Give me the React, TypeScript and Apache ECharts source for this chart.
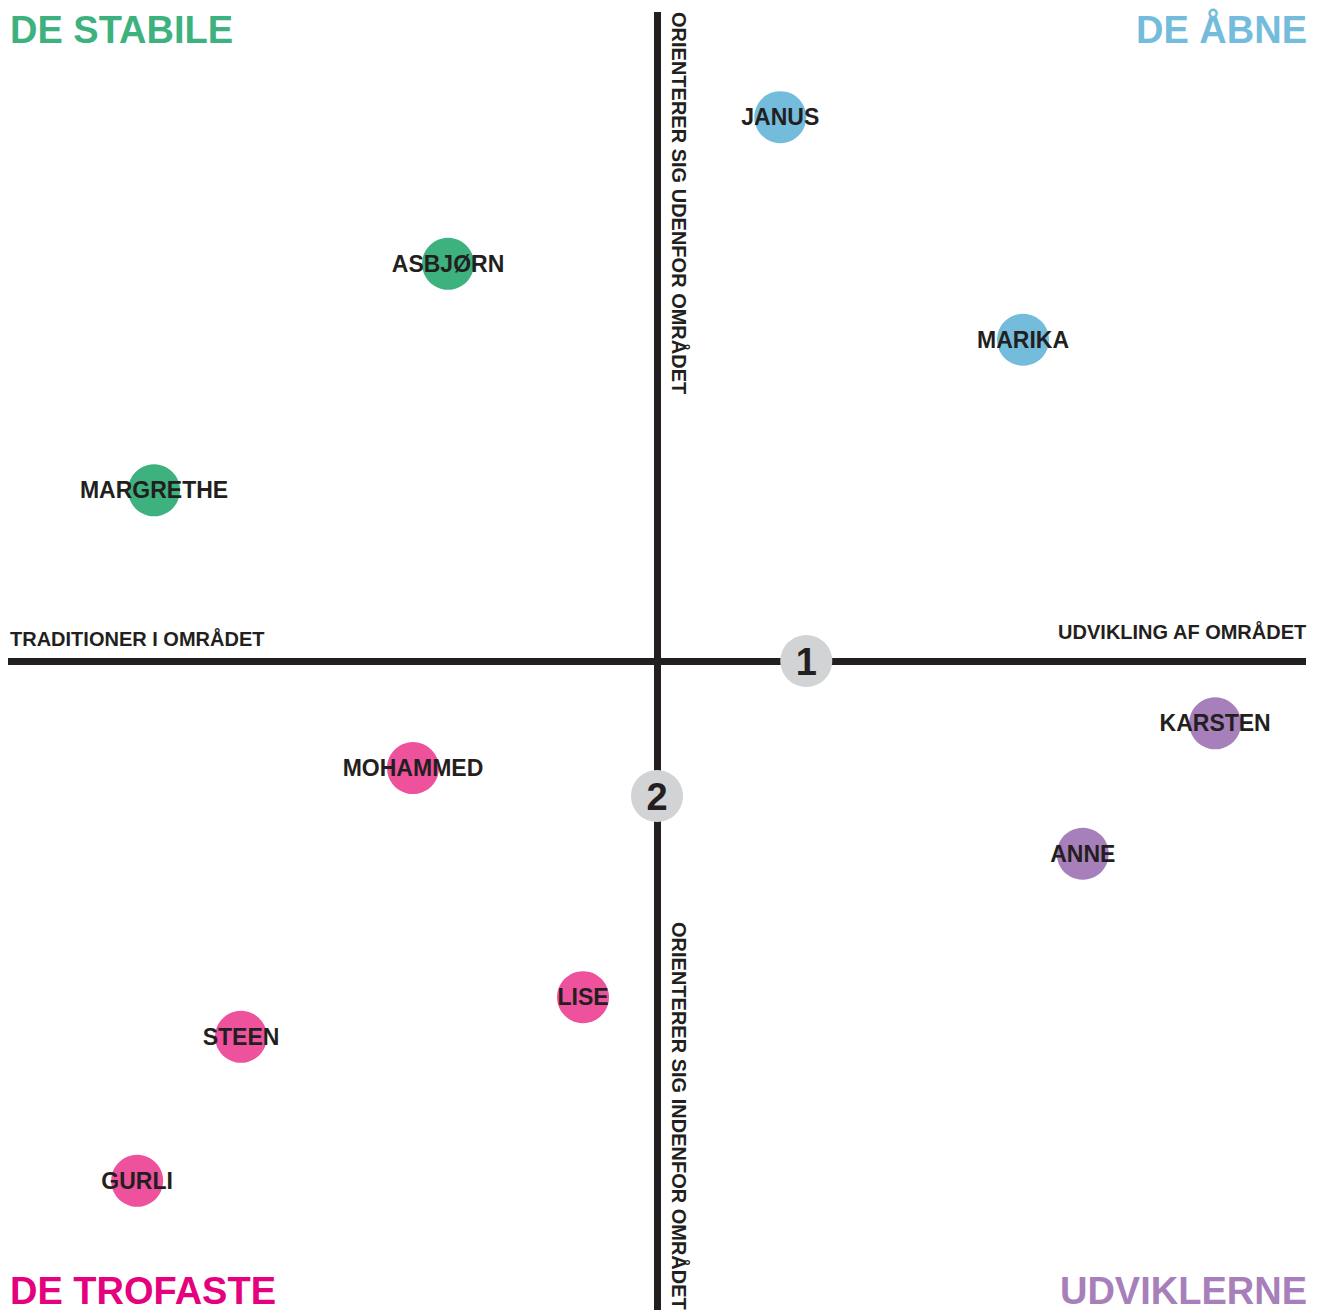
import React, { useEffect, useRef } from "react";
import * as echarts from "echarts";

// Data (x: traditioner -10 .. udvikling +10, y: indenfor -10 .. udenfor +10)
const stabileNames = ["ASBJØRN", "MARGRETHE"];
const stabileX = [-3.22, -7.75];
const stabileY = [6.12, 2.63];

const aabneNames = ["JANUS", "MARIKA"];
const aabneX = [1.9, 5.64];
const aabneY = [8.38, 4.95];

const udviklerneNames = ["KARSTEN", "ANNE"];
const udviklerneX = [8.6, 6.56];
const udviklerneY = [-0.96, -2.97];

const trofasteNames = ["MOHAMMED", "LISE", "STEEN", "GURLI"];
const trofasteX = [-3.76, -1.14, -6.41, -8.01];
const trofasteY = [-1.65, -5.18, -5.79, -8.01];

const markerNames = ["1", "2"];
const markerX = [2.3, 0];
const markerY = [0, -2.08];

const quadrantTitles = ["DE STABILE", "DE ÅBNE", "DE TROFASTE", "UDVIKLERNE"];
const axisTitles = [
  "TRADITIONER I OMRÅDET",
  "UDVIKLING AF OMRÅDET",
  "ORIENTERER SIG UDENFOR OMRÅDET",
  "ORIENTERER SIG INDENFOR OMRÅDET",
];

const INK = "#231f20";
const FONT = "'Liberation Sans', Arial, sans-serif";

const pts = (names: string[], xs: number[], ys: number[]) =>
  names.map((n, i) => ({ name: n, value: [xs[i], ys[i]] }));

const personSeries = (data: any[], color: string) => ({
  type: "scatter",
  data,
  symbol: "circle",
  symbolSize: 52,
  itemStyle: { color, opacity: 1 },
  label: {
    show: true,
    position: "inside",
    formatter: "{b}",
    color: INK,
    fontFamily: FONT,
    fontWeight: "bold",
    fontSize: 23,
  },
  emphasis: { disabled: true },
  z: 3,
});

export default function App() {
  const ref = useRef<HTMLDivElement>(null);
  useEffect(() => {
    if (!ref.current) return;
    const chart = echarts.init(ref.current, undefined, { renderer: "svg" });
    const titleStyle = (color: string) => ({
      fill: color,
      font: `bold 38px ${FONT}`,
    });
    chart.setOption({
      animation: false,
      backgroundColor: "#ffffff",
      grid: { left: 8, right: 14, top: 12, bottom: 3 },
      xAxis: {
        type: "value",
        min: -10,
        max: 10,
        axisLine: {
          show: true,
          onZero: true,
          lineStyle: { color: INK, width: 7, cap: "butt" },
        },
        axisTick: { show: false },
        axisLabel: { show: false },
        splitLine: { show: false },
      },
      yAxis: {
        type: "value",
        min: -10,
        max: 10,
        axisLine: {
          show: true,
          onZero: true,
          lineStyle: { color: INK, width: 7, cap: "butt" },
        },
        axisTick: { show: false },
        axisLabel: { show: false },
        splitLine: { show: false },
      },
      series: [
        personSeries(pts(stabileNames, stabileX, stabileY), "#3db27f"),
        personSeries(pts(aabneNames, aabneX, aabneY), "#74bcdc"),
        personSeries(pts(udviklerneNames, udviklerneX, udviklerneY), "#a77fba"),
        personSeries(pts(trofasteNames, trofasteX, trofasteY), "#ef529d"),
        {
          type: "scatter",
          data: pts(markerNames, markerX, markerY),
          symbol: "circle",
          symbolSize: 52,
          itemStyle: { color: "#d2d3d5", opacity: 1 },
          label: {
            show: true,
            position: "inside",
            formatter: "{b}",
            color: INK,
            fontFamily: "'Liberation Sans Narrow', 'Liberation Sans', sans-serif",
            fontWeight: "bold",
            fontSize: 38,
            offset: [0, 1],
          },
          emphasis: { disabled: true },
          z: 3,
        },
      ],
      graphic: [
        {
          type: "text",
          left: 10,
          top: 11,
          style: { text: quadrantTitles[0], ...titleStyle("#3db27f") },
        },
        {
          type: "text",
          right: 13,
          top: 11,
          style: { text: quadrantTitles[1], ...titleStyle("#74bcdc") },
        },
        {
          type: "text",
          left: 10,
          top: 1272,
          style: { text: quadrantTitles[2], ...titleStyle("#e5007d") },
        },
        {
          type: "text",
          right: 13,
          top: 1272,
          style: { text: quadrantTitles[3], ...titleStyle("#a77fba") },
        },
        {
          type: "text",
          left: 10,
          top: 629,
          style: { text: axisTitles[0], fill: INK, font: `bold 20px ${FONT}` },
        },
        {
          type: "text",
          right: 13,
          top: 622,
          style: { text: axisTitles[1], fill: INK, font: `bold 20px ${FONT}` },
        },
        {
          type: "text",
          x: 679,
          y: 12,
          rotation: -Math.PI / 2,
          style: {
            text: axisTitles[2],
            fill: INK,
            font: `bold 20px ${FONT}`,
            align: "left",
            verticalAlign: "middle",
          },
        },
        {
          type: "text",
          x: 679,
          y: 922,
          rotation: -Math.PI / 2,
          style: {
            text: axisTitles[3],
            fill: INK,
            font: `bold 20px ${FONT}`,
            align: "left",
            verticalAlign: "middle",
          },
        },
      ],
    });
    return () => chart.dispose();
  }, []);
  return (
    <div
      ref={ref}
      style={{ position: "absolute", left: 0, top: 0, width: 1320, height: 1313 }}
    />
  );
}
